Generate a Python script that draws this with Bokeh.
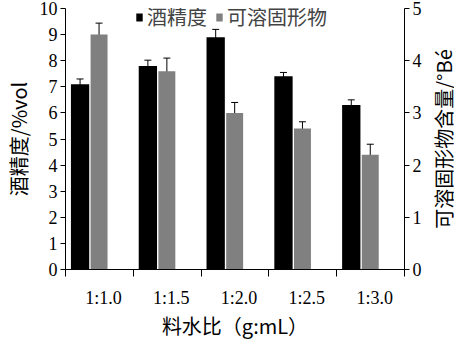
from bokeh.plotting import figure
from bokeh.layouts import row
from bokeh.models import (Range1d, LinearAxis, FixedTicker, Whisker, ColumnDataSource,
                          Legend, LegendItem, TeeHead)
from bokeh.embed import file_html
from bokeh.resources import INLINE

categories = ["1:1.0", "1:1.5", "1:2.0", "1:2.5", "1:3.0"]
alcohol = [7.1, 7.8, 8.9, 7.4, 6.3]
alcohol_err = [0.2, 0.22, 0.3, 0.15, 0.2]
solids = [4.5, 3.8, 3.0, 2.7, 2.2]
solids_err = [0.22, 0.25, 0.2, 0.13, 0.2]
x_title = "料水比（g:mL）"
left_title = "酒精度/%vol"
right_title = "可溶固形物含量/°Bé"
series_names = ["酒精度", "可溶固形物"]

CJK = "Noto Sans CJK SC"
MIX = "Liberation Serif, Noto Sans CJK SC"
NUMFONT = "Liberation Serif"

idx = list(range(len(categories)))
black_x = [i + 0.215 for i in idx]
gray_x = [i + 0.495 for i in idx]

src_a = ColumnDataSource(dict(x=black_x, top=alcohol,
                              lo=[v - e for v, e in zip(alcohol, alcohol_err)],
                              hi=[v + e for v, e in zip(alcohol, alcohol_err)]))
src_s = ColumnDataSource(dict(x=gray_x, top=solids,
                              lo=[v - e for v, e in zip(solids, solids_err)],
                              hi=[v + e for v, e in zip(solids, solids_err)]))

p = figure(width=424, height=342, output_backend="svg", toolbar_location=None,
           x_range=Range1d(0, len(categories)), y_range=Range1d(0, 10),
           min_border_left=52, min_border_right=18, min_border_top=8, min_border_bottom=72)
p.extra_y_ranges = {"right": Range1d(0, 5)}
p.xgrid.visible = False
p.ygrid.visible = False
p.outline_line_color = None

ra = p.vbar(x="x", top="top", width=0.27, source=src_a, color="black", line_color=None)
rs = p.vbar(x="x", top="top", width=0.25, source=src_s, color="#808080", line_color=None,
            y_range_name="right")

for src, rng in [(src_a, "default"), (src_s, "right")]:
    w = Whisker(source=src, base="x", lower="lo", upper="hi", line_color="black",
                line_width=1, y_range_name=rng)
    w.upper_head = TeeHead(size=7, line_color="black", line_width=1)
    w.lower_head = TeeHead(size=7, line_color="black", line_width=1)
    p.add_layout(w)

# x axis: labels centred in each group, ticks at group boundaries
xa = p.xaxis[0]
label_pos = [i + 0.56 for i in idx]
xa.ticker = FixedTicker(ticks=label_pos, minor_ticks=[float(i) for i in range(len(categories) + 1)])
xa.major_label_overrides = {pos: c for pos, c in zip(label_pos, categories)}
xa.major_tick_in = 0
xa.major_tick_out = 0
xa.major_tick_line_color = None
xa.minor_tick_in = 0
xa.minor_tick_out = 7
xa.minor_tick_line_color = "black"
xa.major_label_standoff = 11
xa.axis_label = x_title
xa.axis_label_standoff = 0

# left axis
ya = p.yaxis[0]
ya.ticker = FixedTicker(ticks=list(range(0, 11)))
ya.minor_tick_line_color = None
ya.major_tick_in = 0
ya.major_tick_out = 5
ya.major_label_standoff = 3
ya.axis_label = left_title
ya.axis_label_standoff = 4

# right axis
yr = LinearAxis(y_range_name="right", ticker=FixedTicker(ticks=list(range(0, 6))))
yr.minor_tick_line_color = None
yr.major_tick_in = 0
yr.major_tick_out = 5
yr.major_label_standoff = 3
p.add_layout(yr, "right")

for ax in [xa, ya, yr]:
    ax.axis_line_color = "black"
    ax.major_label_text_font = NUMFONT
    ax.major_label_text_font_size = "18px"
    ax.major_label_text_color = "black"
    ax.axis_label_text_font = CJK
    ax.axis_label_text_font_size = "20px"
    ax.axis_label_text_font_style = "normal"
    ax.axis_label_text_color = "black"
ya.major_tick_line_color = "black"
yr.major_tick_line_color = "black"

legend = Legend(items=[LegendItem(label=series_names[0], renderers=[ra]),
                       LegendItem(label=series_names[1], renderers=[rs])],
                orientation="horizontal", location=(70, 238),
                label_text_font=MIX, label_text_font_size="20px",
                glyph_width=8, glyph_height=10, padding=0, margin=0, spacing=8,
                label_standoff=4, border_line_color=None, background_fill_alpha=0)
p.add_layout(legend, "center")

# right-hand title, reading bottom to top (left axis of a narrow companion figure)
p2 = figure(width=30, height=342, output_backend="svg", toolbar_location=None,
            x_range=Range1d(0, 1), y_range=Range1d(0, 1),
            min_border_left=28, min_border_right=0, min_border_top=8, min_border_bottom=72)
p2.xaxis.visible = False
p2.xgrid.visible = False
p2.ygrid.visible = False
p2.outline_line_color = None
ay2 = p2.yaxis[0]
ay2.ticker = FixedTicker(ticks=[])
ay2.axis_line_color = None
ay2.major_tick_line_color = None
ay2.minor_tick_line_color = None
ay2.major_tick_in = 0
ay2.major_tick_out = 0
ay2.axis_label = right_title
ay2.axis_label_text_font = CJK
ay2.axis_label_text_font_size = "20px"
ay2.axis_label_text_font_style = "normal"
ay2.axis_label_text_color = "black"
ay2.axis_label_standoff = -5

layout = row(p, p2, spacing=0)
open("out.html", "w").write(file_html(layout, INLINE))
